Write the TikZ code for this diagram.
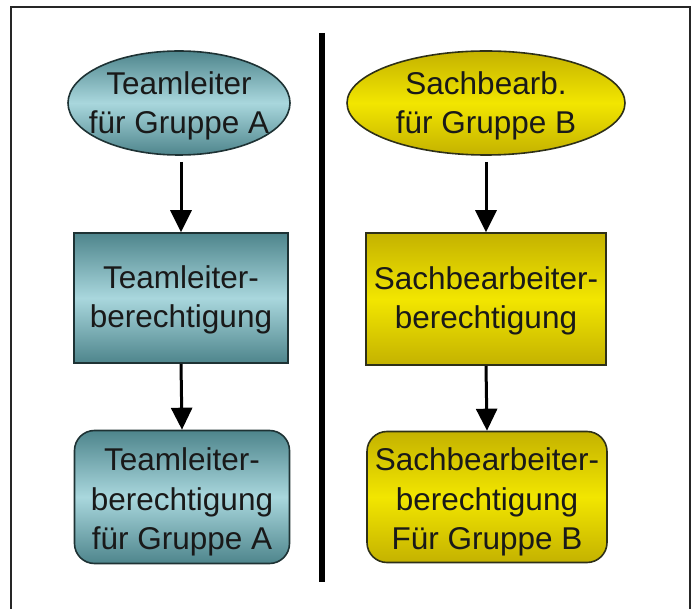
\documentclass[tikz,border=0pt]{standalone}
\usepackage{fontspec}
\setmainfont{Liberation Sans}
\usetikzlibrary{arrows.meta,shapes.geometric}
\definecolor{tealdark}{HTML}{4E858C}
\definecolor{teallight}{HTML}{A9D7DD}
\definecolor{golddark}{HTML}{C4B200}
\definecolor{goldlight}{HTML}{F2E600}
\definecolor{edgeA}{HTML}{1E3234}
\definecolor{edgeB}{HTML}{2E3018}
\begin{document}
\begin{tikzpicture}[x=1pt,y=-1pt,
  txt/.style={font=\fontsize{31.5}{39.5}\selectfont, align=center, inner sep=0pt, text=black!90},
  tealfill/.style={draw=edgeA, line width=1.6pt, top color=tealdark, bottom color=tealdark, middle color=teallight},
  goldfill/.style={draw=edgeB, line width=1.6pt, top color=golddark, bottom color=golddark, middle color=goldlight},
  ellbox/.style={ellipse, inner sep=0pt, minimum height=104pt},
  sqbox/.style={rectangle, inner sep=0pt},
  rndbox/.style={rectangle, rounded corners=20pt, inner sep=0pt},
  flow/.style={line width=3pt, -{Triangle[width=21pt,length=22pt]}}
]
\useasboundingbox (0,0) rectangle (696,609);
% frame
\draw[line width=1.5pt, black!85] (11,609) -- (11,7) -- (690,7) -- (690,609);
% divider
\draw[line width=6pt] (322,33) -- (322,582);

% left column
\node[ellbox, tealfill, minimum width=222pt] (la) at (179,103) {};
\node[txt] (lat) at ([yshift=-3pt]la.center) {Teamleiter\\für Gruppe A};
\node[sqbox, tealfill, minimum width=214pt, minimum height=130pt] (lb) at (181,298) {};
\node[txt] (lbt) at ([yshift=-2pt]lb.center) {Teamleiter-\\berechtigung};
\node[rndbox, tealfill, minimum width=215pt, minimum height=133pt] (lc) at (182,497) {};
\node[txt] (lct) at ([yshift=-5pt]lc.center) {Teamleiter-\\berechtigung\\für Gruppe A};

% right column
\node[ellbox, goldfill, minimum width=278pt] (ra) at (486,103) {};
\node[txt] (rat) at ([yshift=-3pt]ra.center) {Sachbearb.\\für Gruppe B};
\node[sqbox, goldfill, minimum width=240pt, minimum height=132pt] (rb) at (486,299) {};
\node[txt] (rbt) at ([yshift=-2pt]rb.center) {Sachbearbeiter-\\berechtigung};
\node[rndbox, goldfill, minimum width=240pt, minimum height=131pt] (rc) at (487,497) {};
\node[txt] (rct) at ([yshift=-5pt]rc.center) {Sachbearbeiter-\\berechtigung\\Für Gruppe B};

% arrows
\draw[flow] (la.south -| lb.north) ++(0,6) coordinate (a1) -- (lb.north);
\draw[flow] (lb.south) -- (lc.north);
\draw[flow] (ra.south -| rb.north) ++(0,6) coordinate (a2) -- (rb.north);
\draw[flow] (rb.south) -- (rc.north);
\end{tikzpicture}
\end{document}
